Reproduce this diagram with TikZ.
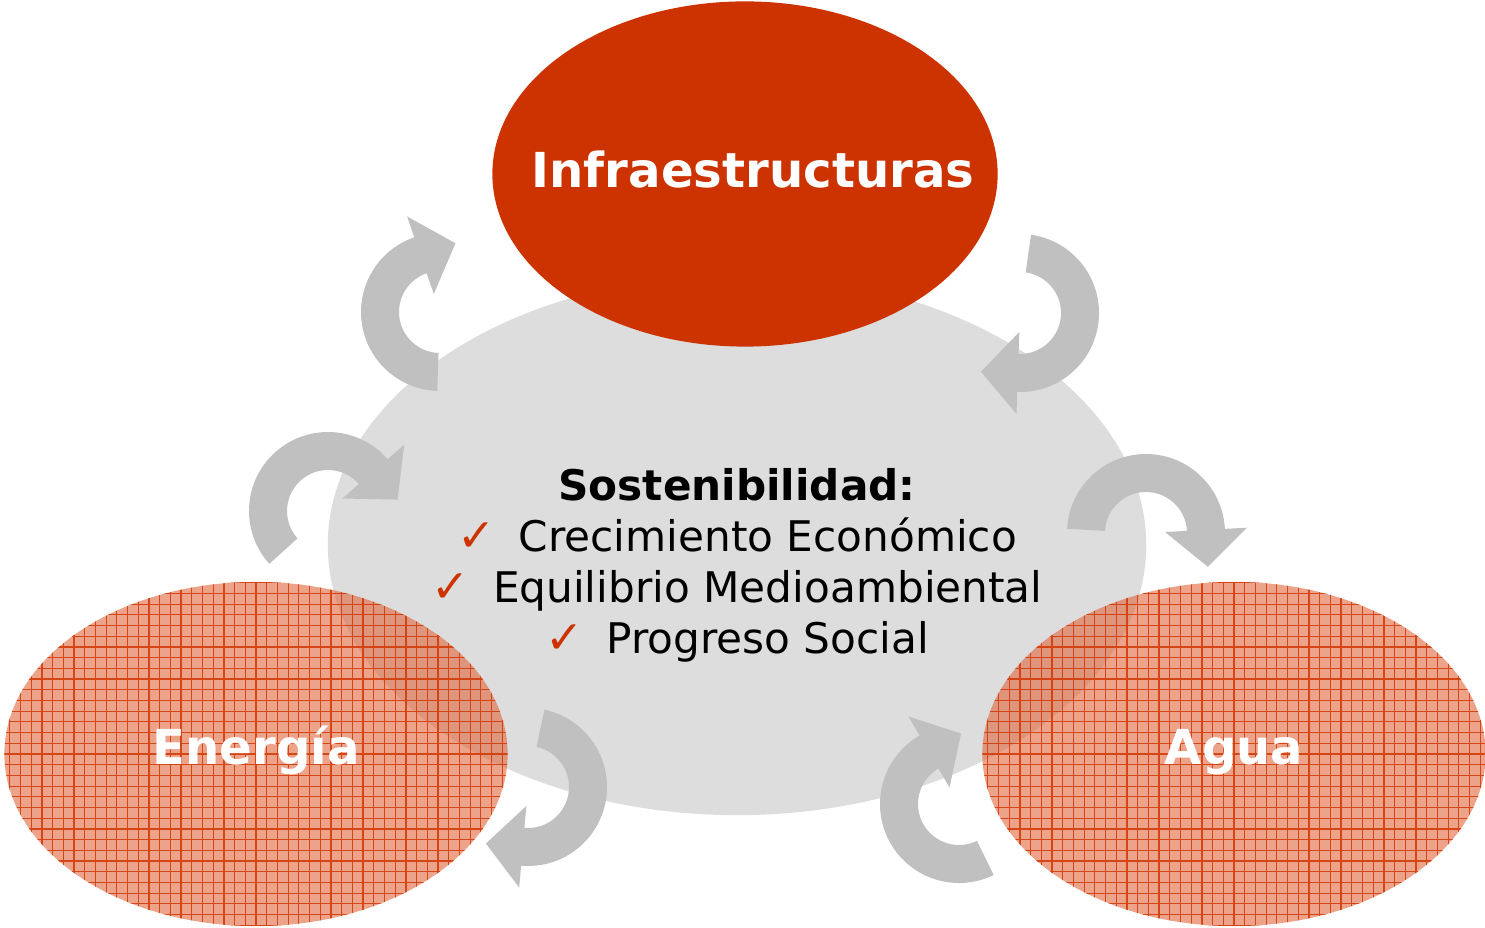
\documentclass[tikz,border=0pt]{standalone}
\usepackage{fontspec}
\setmainfont{DejaVu Sans}
\usepackage{xcolor}
\usetikzlibrary{shapes.geometric,calc}

\definecolor{infrared}{RGB}{204,51,0}
\definecolor{hubgray}{RGB}{221,221,221}
\definecolor{turngray}{RGB}{192,192,192}
\definecolor{blobfill}{RGB}{225,100,60}
\definecolor{blobgrid}{RGB}{210,60,10}

\newcommand{\okmark}{{\color{infrared}\bfseries\fontsize{13}{14.5}\selectfont ✓}\hspace{0.55em}}
\newcommand{\turnarrow}[3]{%
  \fill[turngray] ($(#1)+(#2:79)$) arc[start angle=#2, end angle=#3, radius=79]
    -- ($(#1)+(#3:101)$) -- ($(#1)+(#3:60)+({#3+90}:37)$)
    -- ($(#1)+(#3:19)$) -- ($(#1)+(#3:41)$)
    arc[start angle=#3, end angle=#2, radius=41] -- cycle;}

\tikzset{
  blobtext/.style={text=white, font=\fontsize{13.7}{16}\selectfont\bfseries},
  hub/.style={ellipse, fill=hubgray, inner sep=0pt,
    minimum width=8.18cm, minimum height=5.4cm},
  topblob/.style={ellipse, fill=infrared, inner sep=0pt,
    minimum width=5.05cm, minimum height=3.45cm},
  lowblob/.style={ellipse, fill=blobfill, fill opacity=0.6,
    inner sep=0pt, minimum width=5.03cm, minimum height=3.44cm,
    path picture={\draw[blobgrid, draw opacity=0.9, line width=0.35pt, step=0.107cm]
      (path picture bounding box.south west) grid (path picture bounding box.north east);}},
}

\begin{document}
\begin{tikzpicture}[x=0.01cm, y=-0.01cm]
        \useasboundingbox (0,0) rectangle (1485,928);

        \node[hub] (hub) at (737,545) {};
        \node[topblob, label={[blobtext, xshift=0.08cm, yshift=0.04cm]center:Infraestructuras}]
            (infra) at (745,174) {};

        \turnarrow{440,312}{92}{251}
        \turnarrow{1020,313}{278}{452}
        \turnarrow{328,511}{138}{319}
        \turnarrow{1146,533}{183}{357}
        \turnarrow{528,787}{282}{455}
        \turnarrow{959,804}{64}{240}

        \node[lowblob, label={[blobtext, yshift=0.04cm]center:Energía}] (energia) at (256,754) {};
        \node[lowblob, label={[blobtext, yshift=0.02cm]center:Agua}] (agua) at (1234,754) {};

        \node[align=center, inner sep=0pt, font=\fontsize{12}{14.5}\selectfont] (sost) at (737,565)
            {\textbf{Sostenibilidad:}\\ \okmark Crecimiento Económico\\
             \okmark Equilibrio Medioambiental\\ \okmark Progreso Social};
\end{tikzpicture}
\end{document}
